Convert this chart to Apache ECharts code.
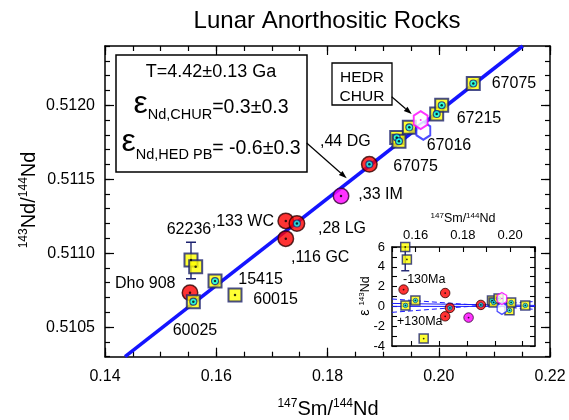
<!DOCTYPE html>
<html><head><meta charset="utf-8">
<script src="https://cdn.jsdelivr.net/npm/echarts@6/dist/echarts.min.js"></script>
<style>html,body{margin:0;padding:0;background:#fff}#c{width:569px;height:420px}</style>
</head><body><div id="c"></div>
<script>
// ===== DATA (main plot: 147Sm/144Nd vs 143Nd/144Nd) =====
const isochron = [[0.1436, 0.5103], [0.2151, 0.5124]];
const redCircles = [[0.15528, 0.510732], [0.1725, 0.511218], [0.1725, 0.511098]]; // Dho 908, ,133 WC, ,116 GC
const redCored = [[0.1745, 0.511200], [0.18752, 0.511600]];                       // ,28 LG, ,44 DG
const magentaCircles = [[0.18243, 0.511386]];                                      // ,33 IM
const squaresPlain = [[0.15546, 0.510953], [0.15630, 0.510908], [0.16337, 0.510717]]; // 62236, 62236, 60015
const squaresCored = [[0.15588, 0.510672], [0.15978, 0.510811], [0.19244, 0.511782], [0.19285, 0.511757],
                      [0.19471, 0.511850], [0.19963, 0.511940], [0.20053, 0.512000], [0.20621, 0.512147]];
                      // 60025, 15415, 67075, 67075, 67016, 67215, 67215, 67075
const errBars = [[0.15546, 0.510827, 0.511074]];                                   // 62236
const hexHED = [[0.19723, 0.511827]];
const hexCHUR = [[0.19675, 0.511899]];
const yMajorTicks = [0.5105, 0.5110, 0.5115, 0.5120];

// ===== DATA (inset: 147Sm/144Nd vs epsilon 143Nd) =====
const insRed = [[0.1549, 1.7], [0.1725, 1.35], [0.1725, -1.0]];
const insRedCored = [[0.1745, -0.15], [0.1876, 0.15]];
const insMagenta = [[0.1824, -1.13]];
const insSqPlain = [[0.1556, 6.0], [0.1563, 4.75], [0.1634, -3.25]];
const insSqCored = [[0.1557, 0.1], [0.1599, 0.6], [0.1923, 0.6], [0.1930, 0.4], [0.1951, 0.8],
                    [0.1997, -0.4], [0.2004, 0.4], [0.2064, 0.1]];
const insErr = [[0.1556, 3.6, 8.4]];
const insHexHED = [[0.1965, -0.2]];
const insHexCHUR = [[0.1965, 0.8]];
const insLineSolidA = [[0.15, 0.0], [0.2105, 0.0]];
const insLineSolidB = [[0.15, 0.3], [0.2105, 0.1]];
const insLineMinus = [[0.15, 0.75], [0.2105, -0.3]];
const insLinePlus = [[0.15, -0.6], [0.2105, 0.5]];
const insBottomTicks = [0.1583, 0.1700, 0.1818, 0.1936, 0.2053];

// ===== STYLE =====
const FONT = '"Liberation Sans", Arial, Helvetica, sans-serif';
const NAVY = '#1c2270';
const HEX = 'path://M50,0 L93.3,25 L93.3,75 L50,100 L6.7,75 L6.7,25 Z';

const chart = echarts.init(document.getElementById('c'), null, {renderer: 'canvas'});

function axis(o) {
  return Object.assign({
    type: 'value', offset: 0,
    axisLine: {show: true, onZero: false, lineStyle: {color: '#000', width: 1.5}},
    splitLine: {show: false},
    axisTick: {show: true, inside: true, length: 9, lineStyle: {color: '#000', width: 1.2}},
    axisLabel: {show: false}
  }, o);
}
const noLine = {show: false};

const xAxis = [
  axis({gridIndex: 0, position: 'bottom', min: 0.14, max: 0.22, interval: 0.02,
        axisLabel: {show: true, formatter: v => v.toFixed(2), fontSize: 16, color: '#000', fontFamily: FONT, margin: 12, showMinLabel: true, showMaxLabel: true}}),
  axis({gridIndex: 0, position: 'bottom', min: 0.14, max: 0.22, interval: 0.005, axisLine: noLine,
        axisTick: {show: true, inside: true, length: 5, lineStyle: {color: '#000', width: 1.2}}}),
  axis({gridIndex: 0, position: 'top', min: 0.14, max: 0.22, interval: 0.02}),
  axis({gridIndex: 0, position: 'top', min: 0.14, max: 0.22, interval: 0.005, axisLine: noLine,
        axisTick: {show: true, inside: true, length: 5, lineStyle: {color: '#000', width: 1.2}}}),
  axis({gridIndex: 1, position: 'top', min: 0.15, max: 0.2105, interval: 0.01,
        axisTick: {show: true, inside: true, length: 5, lineStyle: {color: '#000', width: 1.1}},
        axisLabel: {show: true, fontSize: 13, color: '#000', fontFamily: FONT, margin: 5,
          formatter: v => { const k = Math.round(v * 100); return (k % 2 === 0 && k >= 16 && k <= 20) ? v.toFixed(2) : ''; }}}),
  axis({gridIndex: 1, position: 'bottom', min: 0.15, max: 0.2105,
        axisTick: {show: true, inside: true, length: 5, customValues: insBottomTicks, lineStyle: {color: '#000', width: 1.1}}})
];
const yAxis = [
  axis({gridIndex: 0, position: 'left', min: 0.5103, max: 0.5124, interval: 0.0001,
        axisTick: {show: true, inside: true, length: 5, lineStyle: {color: '#000', width: 1.2}},
        axisLabel: {show: true, fontSize: 16, color: '#000', fontFamily: FONT, margin: 10,
          formatter: v => (Math.round(v * 1e4) % 5 === 0 ? v.toFixed(4) : '')}}),
  axis({gridIndex: 0, position: 'left', min: 0.5103, max: 0.5124, axisLine: noLine,
        axisTick: {show: true, inside: true, length: 9, customValues: yMajorTicks, lineStyle: {color: '#000', width: 1.2}}}),
  axis({gridIndex: 0, position: 'right', min: 0.5103, max: 0.5124, interval: 0.0001,
        axisTick: {show: true, inside: true, length: 5, lineStyle: {color: '#000', width: 1.2}}}),
  axis({gridIndex: 0, position: 'right', min: 0.5103, max: 0.5124, axisLine: noLine,
        axisTick: {show: true, inside: true, length: 9, customValues: yMajorTicks, lineStyle: {color: '#000', width: 1.2}}}),
  axis({gridIndex: 1, position: 'left', min: -4, max: 6, interval: 1,
        axisTick: {show: true, inside: true, length: 5, lineStyle: {color: '#000', width: 1.1}},
        axisLabel: {show: true, fontSize: 13, color: '#000', fontFamily: FONT, margin: 7, showMinLabel: true, showMaxLabel: true,
          formatter: v => (Math.round(v) % 2 === 0 ? String(Math.round(v)) : '')}}),
  axis({gridIndex: 1, position: 'right', min: -4, max: 6, interval: 1,
        axisTick: {show: true, inside: true, length: 5, lineStyle: {color: '#000', width: 1.1}}})
];

function sc(data, inset, symbol, size, itemStyle, z) {
  return {type: 'scatter', xAxisIndex: inset ? 4 : 0, yAxisIndex: inset ? 4 : 0, data, symbol, symbolSize: size,
          symbolKeepAspect: true, itemStyle, z, silent: true, animation: false, emphasis: {disabled: true}, clip: true};
}
function ln(data, inset, style, z) {
  return {type: 'line', xAxisIndex: inset ? 4 : 0, yAxisIndex: inset ? 4 : 0, data, symbol: 'none',
          lineStyle: style, z, silent: true, animation: false, clip: true};
}
function err(data, inset, cap, z) {
  return {type: 'custom', xAxisIndex: inset ? 4 : 0, yAxisIndex: inset ? 4 : 0, data, z, silent: true, animation: false, clip: true,
    renderItem: (params, api) => {
      const x = api.value(0);
      const cs = params.coordSys;
      const p1 = api.coord([x, api.value(1)]), p2 = api.coord([x, api.value(2)]);
      const st = {stroke: NAVY, lineWidth: 1.4};
      const ch = [];
      const yTop = Math.max(p2[1], cs.y), yBot = Math.min(p1[1], cs.y + cs.height);
      ch.push({type: 'line', shape: {x1: p1[0], y1: yBot, x2: p2[0], y2: yTop}, style: st});
      if (p1[1] <= cs.y + cs.height) ch.push({type: 'line', shape: {x1: p1[0] - cap, y1: p1[1], x2: p1[0] + cap, y2: p1[1]}, style: st});
      if (p2[1] >= cs.y) ch.push({type: 'line', shape: {x1: p2[0] - cap, y1: p2[1], x2: p2[0] + cap, y2: p2[1]}, style: st});
      return {type: 'group', children: ch};
    }};
}

const redStyle = {color: '#ff0000', borderColor: '#300000', borderWidth: 1.5};
const magStyle = {color: '#ff00ff', borderColor: '#300030', borderWidth: 1.5};
const sqStyle = {color: '#ffff00', borderColor: NAVY, borderWidth: 2};
const cyanStyle = {color: '#00ffff', borderColor: NAVY, borderWidth: 1.1};
const dotStyle = {color: '#000'};

const allMainDots = [].concat(redCircles, redCored, magentaCircles, squaresPlain, squaresCored);
const allInsDots = [].concat(insRed, insRedCored, insMagenta, insSqPlain, insSqCored);

const series = [
  ln(isochron, false, {color: '#1414ff', width: 3.5}, 2),
  err(errBars, false, 5, 3),
  sc(redCircles, false, 'circle', 15.5, redStyle, 4),
  sc(redCored, false, 'circle', 15.5, redStyle, 4),
  sc(magentaCircles, false, 'circle', 15.5, magStyle, 4),
  sc(squaresPlain, false, 'rect', 13, sqStyle, 5),
  sc(squaresCored, false, 'rect', 13, sqStyle, 5),
  sc(redCored, false, 'circle', 7, cyanStyle, 6),
  sc(squaresCored, false, 'circle', 7, cyanStyle, 6),
  sc(allMainDots, false, 'circle', 2.5, dotStyle, 7),
  sc(hexHED, false, HEX, [16, 18], {color: '#fff', borderColor: '#2020ff', borderWidth: 2}, 8),
  sc(hexCHUR, false, HEX, [16, 18], {color: '#fff', borderColor: '#ff00ff', borderWidth: 2}, 9),
  sc(hexCHUR, false, 'circle', 2, {color: '#ff00ff'}, 10),
  // inset
  ln(insLineSolidA, true, {color: '#1a1aff', width: 1}, 11),
  ln(insLineSolidB, true, {color: '#1a1aff', width: 1}, 11),
  ln(insLineMinus, true, {color: '#1a1aff', width: 1, type: [5, 3]}, 11),
  ln(insLinePlus, true, {color: '#1a1aff', width: 1, type: [5, 3]}, 11),
  err(insErr, true, 4, 12),
  sc(insRed, true, 'circle', 9.5, {color: '#ff0000', borderColor: '#300000', borderWidth: 1}, 13),
  sc(insRedCored, true, 'circle', 9.5, {color: '#ff0000', borderColor: '#300000', borderWidth: 1}, 13),
  sc(insMagenta, true, 'circle', 9.5, {color: '#ff00ff', borderColor: '#300030', borderWidth: 1}, 13),
  sc(insSqPlain, true, 'rect', 9, {color: '#ffff00', borderColor: NAVY, borderWidth: 1.5}, 14),
  sc(insSqCored, true, 'rect', 9, {color: '#ffff00', borderColor: NAVY, borderWidth: 1.5}, 14),
  sc(insRedCored, true, 'circle', 4.5, {color: '#00ffff', borderColor: NAVY, borderWidth: 0.8}, 15),
  sc(insSqCored, true, 'circle', 4.5, {color: '#00ffff', borderColor: NAVY, borderWidth: 0.8}, 15),
  sc(allInsDots, true, 'circle', 1.8, dotStyle, 16),
  sc(insHexHED, true, HEX, [11, 12], {color: '#fff', borderColor: '#2020ff', borderWidth: 1.3}, 17),
  sc(insHexCHUR, true, HEX, [11, 12], {color: '#fff', borderColor: '#ff00ff', borderWidth: 1.3}, 18),
  sc(insHexCHUR, true, 'circle', 1.6, {color: '#ff00ff'}, 19)
];

// ===== annotations =====
const mctx = document.createElement('canvas').getContext('2d');
function tw(t, s) { mctx.font = s + 'px ' + FONT; return mctx.measureText(t).width; }
function txt(t, x, y, s, align) {
  return {type: 'text', x, y, z: 100, silent: true,
          style: {text: t, font: s + 'px ' + FONT, fill: '#000', align: align || 'left', verticalAlign: 'middle',
                  textAlign: align || 'left', textVerticalAlign: 'middle'}};
}
function runs(pieces, x, base, align) {
  const total = pieces.reduce((a, p) => a + tw(p[0], p[1]), 0);
  let cx = align === 'center' ? x - total / 2 : align === 'right' ? x - total : x;
  return pieces.map(p => { const e = txt(p[0], cx, base + (p[2] || 0) - 0.35 * p[1], p[1], 'left'); cx += tw(p[0], p[1]); return e; });
}
function arrow(x1, y1, x2, y2) {
  const a = Math.atan2(y2 - y1, x2 - x1), L = 8, W = 2.8;
  const bx = x2 - L * Math.cos(a), by = y2 - L * Math.sin(a);
  const px = -Math.sin(a) * W, py = Math.cos(a) * W;
  return [
    {type: 'line', z: 100, silent: true, shape: {x1, y1, x2: bx, y2: by}, style: {stroke: '#000', lineWidth: 1.2}},
    {type: 'polygon', z: 100, silent: true, shape: {points: [[x2, y2], [bx + px, by + py], [bx - px, by - py]]}, style: {fill: '#000'}}
  ];
}
const LF = 16;
let g = [];
g.push(txt('Lunar Anorthositic Rocks', 327, 21, 24, 'center'));
g = g.concat(runs([['147', 12, -8], ['Sm/', 20], ['144', 12, -8], ['Nd', 20]], 328, 416, 'center'));
g.push({type: 'group', x: 36, y: 200, rotation: Math.PI / 2,
        children: runs([['143', 12, -8], ['Nd/', 20], ['144', 12, -8], ['Nd', 20]], 0, 0, 'center')});
// text box
g.push({type: 'rect', z: 99, silent: true, shape: {x: 116, y: 55, width: 191, height: 117}, style: {fill: '#fff', stroke: '#000', lineWidth: 1.5}});
g = g.concat(runs([['T=4.42±0.13 Ga', 18]], 211, 78.3, 'center'));
g = g.concat(runs([['ε', 32], ['Nd,CHUR', 14.5, 5], ['=0.3±0.3', 19.5, -1]], 211, 115, 'center'));
g = g.concat(runs([['ε', 32], ['Nd,HED PB', 14.5, 7], ['= -0.6±0.3', 19.5, 2]], 211, 153, 'center'));
// HEDR CHUR box
g.push({type: 'rect', z: 99, silent: true, shape: {x: 332, y: 63, width: 60, height: 42}, style: {fill: '#fff', stroke: '#000', lineWidth: 1.3}});
g.push(txt('HEDR', 362, 77.4, 15.5, 'center'));
g.push(txt('CHUR', 362, 96.4, 15.5, 'center'));
g = g.concat(arrow(391.7, 96.7, 411.7, 114));
g = g.concat(arrow(306.7, 143, 346.7, 178.3));
// point labels
g.push(txt('67075', 491.7, 83.3, LF));
g.push(txt('67215', 456.7, 119, LF));
g.push(txt('67016', 426.7, 146, LF));
g.push(txt('67075', 393.3, 166.7, LF));
g.push(txt(',33 IM', 358.3, 195, LF));
g.push(txt(',44 DG', 320, 142, LF));
g.push(txt('62236', 166.7, 230, LF));
g.push(txt('Dho 908', 115, 283.3, LF));
g.push(txt('60025', 172.7, 330.7, LF));
g.push(txt('15415', 238.3, 280, LF));
g.push(txt('60015', 253.3, 300, LF));
g.push(txt(',133 WC', 274, 222, LF, 'right'));
g.push(txt(',28 LG', 318, 229, LF));
g.push(txt(',116 GC', 291, 258, LF));
// inset texts
g = g.concat(runs([['147', 8, -5], ['Sm/', 12.5], ['144', 8, -5], ['Nd', 12.5]], 463, 223.3, 'center'));
g.push({type: 'group', x: 370, y: 296, rotation: Math.PI / 2,
        children: runs([['ε ', 14], ['143', 8, -5], ['Nd', 12.5]], 0, 0, 'center')});
g.push(txt('-130Ma', 403, 280, 12.5));
g.push(txt('+130Ma', 397, 322, 12.5));

chart.setOption({
  animation: false,
  backgroundColor: '#fff',
  textStyle: {fontFamily: FONT},
  grid: [
    {left: 105, top: 46, width: 445, height: 310.7, show: false, containLabel: false, outerBoundsMode: 'none'},
    {left: 392, top: 247, width: 143, height: 99, show: true, backgroundColor: '#fff', borderWidth: 0, containLabel: false, outerBoundsMode: 'none'}
  ],
  xAxis, yAxis, series,
  graphic: {elements: g}
});
</script></body></html>
